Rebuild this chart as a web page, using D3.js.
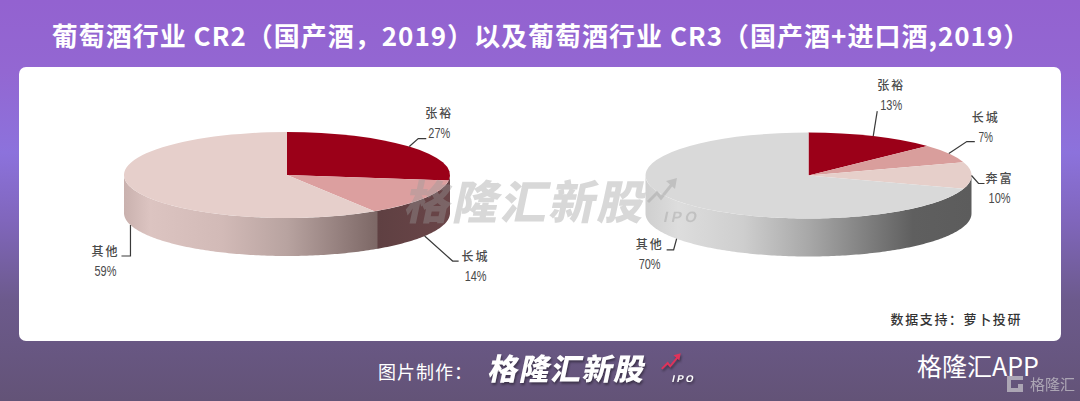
<!DOCTYPE html>
<html>
<head>
<meta charset="utf-8">
<script src="https://cdn.jsdelivr.net/npm/d3@7"></script>
<style>
  html, body { margin: 0; padding: 0; background: #655477; overflow: hidden; }
  svg { display: block; }
  text { font-family: "Noto Sans CJK SC", "Noto Sans", sans-serif; }
</style>
</head>
<body>
<div id="chart"></div>
<script>
const titleText = '葡萄酒行业 CR2（国产酒，2019）以及葡萄酒行业 CR3（国产酒+进口酒,2019）';
const sourceText = '数据支持：萝卜投研';

const cr2Names = ['张裕', '长城', '其他'];
const cr2Values = [27, 14, 59];
const cr3Names = ['张裕', '长城', '奔富', '其他'];
const cr3Values = [13, 7, 10, 70];

// offsets from the slice's rim point: leader bends, then label centre
const cr2Leaders = [
  {bends: [[9, -8], [17, -8]], label: [30, -33]},
  {bends: [[28, 25], [34, 25]], label: [51, 21]},
  {bends: [[0, 31], [-9, 31]], label: [-25, 27]}
];
const cr3Leaders = [
  {bends: [[4, -25]], label: [18, -50]},
  {bends: [[18, -12], [26, -12]], label: [37, -36]},
  {bends: [[7, 8], [13, 8]], label: [28, 3]},
  {bends: [[-3, 11], [-10, 11]], label: [-27, 6]}
];

const width = 1080;
const height = 401;
const pieRx = 163;
const pieRy = 43;
const pieDepth = 38;

const svg = d3.select('#chart').append('svg').attr('width', width).attr('height', height);
const defs = svg.append('defs');

const bg = defs.append('linearGradient').attr('id', 'bg').attr('x1', 0).attr('y1', 0).attr('x2', 0).attr('y2', 1);
[[0, '#9362d0'], [0.18, '#9367d2'], [0.38, '#8c72dc'], [0.55, '#8066bc'], [0.75, '#6c5a8c'], [1, '#635377']].forEach(function (s) {
  bg.append('stop').attr('offset', s[0]).attr('stop-color', s[1]);
});
svg.append('rect').attr('width', width).attr('height', height).attr('fill', 'url(#bg)');

svg.append('rect').attr('x', 19).attr('y', 67).attr('width', 1042).attr('height', 274).attr('rx', 7).attr('fill', '#fff');

svg.append('text').attr('x', 541).attr('y', 46).attr('text-anchor', 'middle')
  .attr('font-size', 26).attr('font-weight', 700).attr('letter-spacing', 1).attr('fill', '#fff')
  .text(titleText);

function wallGradient(id, stops) {
  const g = defs.append('linearGradient').attr('id', id).attr('gradientUnits', 'userSpaceOnUse')
    .attr('x1', -pieRx).attr('x2', pieRx).attr('y1', 0).attr('y2', 0);
  stops.forEach(function (s) {
    g.append('stop').attr('offset', s[0]).attr('stop-color', s[1]);
  });
}

wallGradient('wallCr2', [[0, '#c9b1ae'], [0.08, '#dcc4c1'], [0.3, '#d2bab7'], [0.5, '#b8a3a0'], [0.68, '#917c7a'], [0.775, '#7d6866'], [0.78, '#5f4042'], [1, '#6a4548']]);
wallGradient('wallCr3', [[0, '#cfcfcf'], [0.1, '#dddddd'], [0.3, '#cecece'], [0.5, '#a8a8a8'], [0.68, '#7f7f7f'], [0.82, '#5f5f5f'], [1, '#5c5c5c']]);

function drawPie(opts) {
  const g = svg.append('g').attr('transform', 'translate(' + opts.cx + ',' + opts.cy + ')');
  const pie = d3.pie().sort(null).startAngle(0).endAngle(2 * Math.PI);
  const slices = pie(opts.values);
  const rimX = function (t) { return pieRx * Math.sin(t); };
  const rimY = function (t) { return -pieRy * Math.cos(t); };

  // side wall, only the front half of the ellipse shows
  const front = d3.range(90, 270.5, 1).map(function (d) { return d * Math.PI / 180; });
  const wall = front.map(function (t) { return [rimX(t), rimY(t)]; })
    .concat(front.slice().reverse().map(function (t) { return [rimX(t), rimY(t) + pieDepth]; }));
  g.append('path').attr('d', d3.line()(wall) + 'Z').attr('fill', 'url(#' + opts.wall + ')');

  const arc = d3.arc().innerRadius(0).outerRadius(pieRx);
  g.append('g').attr('transform', 'scale(1,' + (pieRy / pieRx) + ')')
    .selectAll('path').data(slices).enter().append('path')
    .attr('d', arc)
    .attr('fill', function (d, i) { return opts.colors[i]; });

  slices.forEach(function (d, i) {
    const mid = (d.startAngle + d.endAngle) / 2;
    const onFront = Math.cos(mid) < -0.02;
    const x0 = rimX(mid);
    const y0 = rimY(mid) + (onFront ? pieDepth : 0);
    const lay = opts.leaders[i];
    const pts = [[x0, y0]].concat(lay.bends.map(function (b) { return [x0 + b[0], y0 + b[1]]; }));
    g.append('path').attr('d', d3.line()(pts)).attr('fill', 'none').attr('stroke', '#3a3a3a').attr('stroke-width', 1.2);
    g.append('text').attr('x', x0 + lay.label[0]).attr('y', y0 + lay.label[1] + 4)
      .attr('text-anchor', 'middle').attr('font-size', 12).attr('font-weight', 500).attr('letter-spacing', 2).attr('fill', '#4a4a4a')
      .text(opts.names[i]);
    const pct = d.data + '%';
    g.append('text').attr('x', x0 + lay.label[0]).attr('y', y0 + lay.label[1] + 24)
      .attr('text-anchor', 'middle').attr('font-size', 14).attr('fill', '#4a4a4a')
      .attr('textLength', pct.length * 7.3).attr('lengthAdjust', 'spacingAndGlyphs')
      .style('font-family', '"Liberation Sans", sans-serif')
      .text(pct);
  });
}

drawPie({cx: 287, cy: 175, names: cr2Names, values: cr2Values, leaders: cr2Leaders, wall: 'wallCr2', colors: ['#9b0018', '#dc9f9f', '#e6cfcb']});
drawPie({cx: 808.5, cy: 175.5, names: cr3Names, values: cr3Values, leaders: cr3Leaders, wall: 'wallCr3', colors: ['#9b0018', '#d99e9c', '#e6cfca', '#d9d9d9']});

svg.append('text').attr('x', 1022).attr('y', 324).attr('text-anchor', 'end')
  .attr('font-size', 13).attr('font-weight', 500).attr('letter-spacing', 1.6).attr('fill', '#333')
  .text(sourceText);

function brandMark(x, y, size, fill, opacity, arrowFill, ipoX, shadow) {
  const g = svg.append('g').attr('transform', 'translate(' + x + ',' + y + ')').attr('opacity', opacity);
  if (shadow) g.style('filter', 'drop-shadow(1px 2px 1px rgba(0,0,0,0.4))');
  g.append('text').attr('transform', 'skewX(-12)').attr('font-size', size).attr('font-weight', 900)
    .attr('letter-spacing', size * 0.05).attr('fill', fill).text('格隆汇新股');
  const u = size / 46;
  const dx = ipoX - 260;
  g.append('path')
    .attr('d', d3.line()([[(245 + dx) * u, -17 * u], [(254 + dx) * u, -26 * u], [(258 + dx) * u, -21 * u], [(270 + dx) * u, -36 * u]]))
    .attr('fill', 'none').attr('stroke', arrowFill).attr('stroke-width', 3 * u);
  g.append('path').attr('d', d3.line()([[(263 + dx) * u, -38 * u], [(274 + dx) * u, -41 * u], [(272 + dx) * u, -30 * u]]) + 'Z').attr('fill', arrowFill);
  g.append('text').attr('transform', 'translate(' + (ipoX * u) + ',' + (3 * u) + ') skewX(-12)')
    .attr('font-size', 15 * u).attr('font-weight', 900).attr('letter-spacing', 3.5 * u)
    .style('font-family', '"Liberation Sans", sans-serif').attr('fill', fill).text('IPO');
}

brandMark(403, 219, 46, '#9a9a9a', 0.38, '#9a9a9a', 260, false);

svg.append('text').attr('x', 378).attr('y', 379).attr('font-size', 18).attr('letter-spacing', 1).attr('fill', '#fff').text('图片制作：');
brandMark(487, 380, 30, '#fff', 1, '#e0325a', 283, true);

svg.append('text').attr('x', 917).attr('y', 376).attr('font-size', 25).attr('fill', '#fff').text('格隆汇APP');

const mark = svg.append('g').attr('opacity', 0.62);
mark.append('path').attr('d', 'M1007 376H1023V380H1011V388H1018V384H1023V392H1007Z').attr('fill', '#d8d8d8');
mark.append('text').attr('x', 1030).attr('y', 390).attr('font-size', 15).attr('fill', '#d8d8d8').text('格隆汇');
</script>
</body>
</html>
